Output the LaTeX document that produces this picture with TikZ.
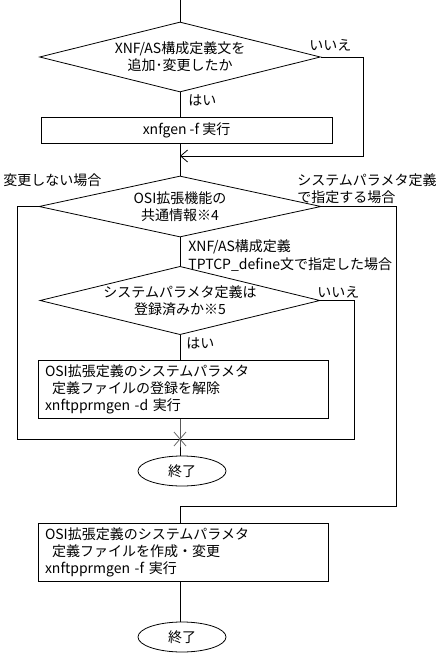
\documentclass[tikz,border=0pt]{standalone}
\usepackage{fontspec}
\setmainfont{Noto Sans CJK JP}
\usetikzlibrary{shapes.geometric,arrows.meta}
\newcommand\flowfont{\fontsize{14pt}{17pt}\selectfont}

\begin{document}
\begin{tikzpicture}[x=1pt, y=-1pt, line width=0.8pt, font=\flowfont,
    decision/.style={diamond, draw, aspect=4, inner sep=0pt, align=center},
    procbox/.style={rectangle, draw, inner sep=0pt},
    cmdbox/.style={rectangle, draw, text width=276pt, inner xsep=7pt, inner ysep=0pt,
                   minimum height=58pt, align=left},
    endnode/.style={ellipse, draw, inner sep=0pt, minimum width=88pt, minimum height=30pt},
    lbl/.style={inner sep=0pt, anchor=west, align=left}]
    \useasboundingbox (0,0) rectangle (441,655);

    % First check: XNF/AS definition changed?
    \coordinate (start) at (180,0);
    \node[decision, minimum width=281pt, minimum height=70pt] (d1) at (180,57)
        {XNF/AS構成定義文を\\追加･変更したか};
    \node[procbox, minimum width=291pt, minimum height=26pt] (b1) at (186.5,130)
        {xnfgen -f 実行};
    \coordinate (m1) at (180,156);
    \node[lbl] (no1)  at (309,45)  {いいえ};
    \node[lbl] (yes1) at (188,100) {はい};

    \draw (start) -- (d1.north);
    \draw (d1.south) -- (d1.south |- b1.north);
    \draw[-{Straight Barb[length=7pt,width=12pt]}] (d1.east) -- ++(42,0) |- (m1);
    \draw (d1.south |- b1.south) -- (m1);

    % Common OSI information
    \node[decision, minimum width=282pt, minimum height=61pt] (d2) at (180,206.5)
        {OSI拡張機能の\\共通情報※4};
    \node[lbl] (nochg) at (3,180) {変更しない場合};
    \node[lbl] (bysys) at (297,188.5) {システムパラメタ定義\\で指定する場合};
    \node[lbl] (bytp)  at (188,256) {XNF/AS構成定義\\[1pt]TPTCP\_define文で指定した場合};
    \draw (m1) -- (d2.north);

    % Registered? -> remove registration
    \node[decision, minimum width=280pt, minimum height=61pt] (d3) at (180,300.5)
        {システムパラメタ定義は\\登録済みか※5};
    \node[lbl] (no3)  at (317,292) {いいえ};
    \node[lbl] (yes3) at (186,343) {はい};
    \node[cmdbox] (b2) at (183,389)
        {OSI拡張定義のシステムパラメタ\\\hspace{0.5em}定義ファイルの登録を解除\\xnftpprmgen -d 実行};
    \coordinate (j) at (180,439);
    \node[endnode] (e1) at (182,471) {終了};

    \draw (d2.south) -- (d3.north);
    \draw (d3.south) -- (d3.south |- b2.north);
    \draw (d2.west) -- ++(-21,0) |- (j);
    \draw (d3.east) -- ++(34,0) |- (j);
    \draw (d3.south |- b2.south) -- (j) -- (j |- e1.north);
    \draw[black!60] (j) ++(-6,-7) -- ++(12,14);
    \draw[black!60] (j) ++(6,-7) -- ++(-12,14);

    % Create / change definition file
    \coordinate (m2) at (180,506);
    \node[cmdbox] (b3) at (183,552)
        {OSI拡張定義のシステムパラメタ\\\hspace{0.5em}定義ファイルを作成・変更\\xnftpprmgen -f 実行};
    \node[endnode] (e2) at (182,637) {終了};

    \draw (d2.east) -- ++(75,0) |- (m2) -- (m2 |- b3.north);
    \draw (m2 |- b3.south) -- (m2 |- e2.north);
\end{tikzpicture}
\end{document}
